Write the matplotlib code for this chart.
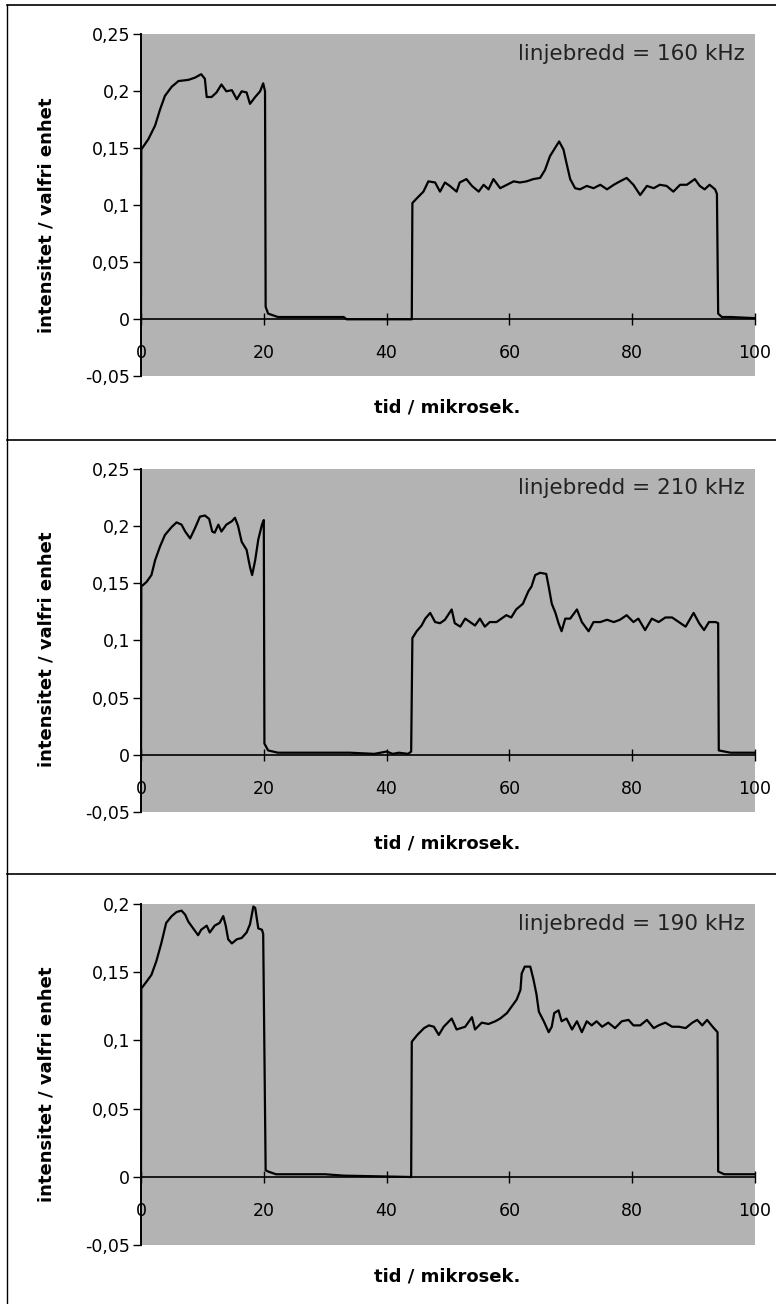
import matplotlib
matplotlib.use('Agg')
import matplotlib.pyplot as plt
from matplotlib.lines import Line2D

# ---- data (t in mikrosek, intensitet) ----
trace_160 = [(0, 0), (0.05, 0.149), (1.2, 0.158), (2.3, 0.170), (3.1, 0.184), (3.9, 0.196),
             (5.0, 0.204), (6.1, 0.209), (7.7, 0.210), (8.8, 0.212), (9.8, 0.215), (10.4, 0.211),
             (10.7, 0.195), (11.5, 0.195), (12.3, 0.199), (13.1, 0.206), (13.9, 0.200), (14.8, 0.201),
             (15.6, 0.193), (16.4, 0.200), (17.2, 0.199), (17.75, 0.189), (18.6, 0.195), (19.4, 0.200),
             (19.9, 0.207), (20.2, 0.200), (20.3, 0.011), (20.7, 0.005), (22.3, 0.002), (26, 0.002),
             (30, 0.002), (33, 0.002), (33.5, 0.0), (44.1, 0.0), (44.2, 0.102), (44.9, 0.106),
             (46.0, 0.112), (46.8, 0.121), (47.9, 0.120), (48.7, 0.112), (49.5, 0.120), (50.3, 0.117),
             (51.4, 0.112), (51.9, 0.120), (53.0, 0.123), (53.9, 0.117), (55.0, 0.112), (55.8, 0.118),
             (56.6, 0.114), (57.4, 0.123), (58.5, 0.115), (59.6, 0.118), (60.7, 0.121), (61.7, 0.120),
             (62.8, 0.121), (63.9, 0.123), (65.0, 0.124), (65.8, 0.131), (66.6, 0.143), (67.4, 0.150),
             (68.1, 0.156), (68.8, 0.149), (69.3, 0.137), (69.9, 0.123), (70.7, 0.115), (71.5, 0.114),
             (72.6, 0.117), (73.7, 0.115), (74.8, 0.118), (75.9, 0.114), (77.0, 0.118), (78.0, 0.121),
             (79.1, 0.124), (80.2, 0.118), (81.3, 0.109), (82.4, 0.117), (83.5, 0.115), (84.5, 0.118),
             (85.6, 0.117), (86.7, 0.112), (87.8, 0.118), (88.9, 0.118), (90.2, 0.123), (91.0, 0.117),
             (91.8, 0.114), (92.6, 0.118), (93.5, 0.114), (93.8, 0.110), (94.0, 0.005), (94.6, 0.002),
             (96, 0.002), (100, 0.001)]

trace_210 = [(0, 0), (0.05, 0.147), (0.9, 0.151), (1.7, 0.157), (2.3, 0.170), (3.1, 0.182),
             (3.9, 0.192), (5.0, 0.199), (5.8, 0.203), (6.6, 0.201), (7.2, 0.195), (8.0, 0.189),
             (8.8, 0.198), (9.6, 0.208), (10.4, 0.209), (11.1, 0.206), (11.6, 0.195), (12.0, 0.194),
             (12.6, 0.201), (13.1, 0.195), (13.9, 0.201), (14.8, 0.204), (15.3, 0.207), (15.8, 0.200),
             (16.4, 0.186), (17.2, 0.179), (17.75, 0.164), (18.1, 0.157), (18.6, 0.170), (19.1, 0.188),
             (19.7, 0.201), (20.0, 0.205), (20.1, 0.010), (20.7, 0.004), (22.3, 0.002), (26, 0.002),
             (30, 0.002), (34, 0.002), (38, 0.001), (40, 0.003), (41, 0.001), (42, 0.002),
             (43.5, 0.001), (44.0, 0.003), (44.2, 0.102), (44.9, 0.108), (45.7, 0.113), (46.3, 0.119),
             (47.1, 0.124), (47.9, 0.116), (48.7, 0.115), (49.5, 0.118), (50.6, 0.127), (51.1, 0.115),
             (52.0, 0.112), (52.8, 0.119), (53.6, 0.116), (54.4, 0.113), (55.2, 0.119), (56.0, 0.112),
             (56.8, 0.116), (57.9, 0.116), (58.7, 0.119), (59.5, 0.122), (60.3, 0.120), (61.1, 0.127),
             (62.2, 0.132), (63.1, 0.143), (63.6, 0.147), (64.2, 0.157), (65.0, 0.159), (66.0, 0.158),
             (66.4, 0.147), (66.9, 0.132), (67.5, 0.124), (68.0, 0.115), (68.5, 0.108), (69.1, 0.119),
             (69.9, 0.119), (71.0, 0.127), (71.8, 0.116), (72.9, 0.108), (73.7, 0.116), (74.8, 0.116),
             (75.9, 0.118), (77.0, 0.116), (78.0, 0.118), (79.1, 0.122), (80.2, 0.116), (81.0, 0.119),
             (82.1, 0.109), (83.2, 0.119), (84.3, 0.116), (85.4, 0.120), (86.5, 0.120), (87.6, 0.116),
             (88.7, 0.112), (90.0, 0.124), (90.9, 0.115), (91.7, 0.109), (92.5, 0.116), (93.6, 0.116),
             (94.0, 0.115), (94.1, 0.004), (96, 0.002), (100, 0.002)]

trace_190 = [(0, 0), (0.05, 0.138), (0.9, 0.143), (1.7, 0.148), (2.5, 0.158), (3.3, 0.171),
             (4.1, 0.186), (5.0, 0.191), (5.8, 0.194), (6.6, 0.195), (7.2, 0.192), (7.7, 0.187),
             (8.5, 0.182), (9.3, 0.177), (9.8, 0.181), (10.7, 0.184), (11.2, 0.179), (12.0, 0.184),
             (12.8, 0.186), (13.4, 0.191), (13.8, 0.184), (14.2, 0.174), (14.8, 0.171), (15.6, 0.174),
             (16.4, 0.175), (17.2, 0.179), (17.75, 0.185), (18.3, 0.198), (18.6, 0.197), (19.1, 0.182),
             (19.7, 0.181), (19.9, 0.178), (20.3, 0.005), (20.7, 0.004), (22, 0.002), (30, 0.002),
             (33, 0.001), (44.0, 0.0), (44.1, 0.099), (45.0, 0.104), (46.1, 0.109), (46.9, 0.111),
             (47.7, 0.110), (48.5, 0.104), (49.3, 0.110), (50.6, 0.116), (51.4, 0.108), (52.8, 0.110),
             (53.9, 0.117), (54.4, 0.108), (55.5, 0.113), (56.6, 0.112), (57.7, 0.114), (58.5, 0.116),
             (59.6, 0.120), (60.4, 0.125), (61.2, 0.130), (61.8, 0.137), (62.0, 0.149), (62.5, 0.154),
             (63.4, 0.154), (63.9, 0.145), (64.4, 0.134), (64.8, 0.121), (65.6, 0.114), (66.4, 0.106),
             (66.9, 0.110), (67.3, 0.120), (68.0, 0.122), (68.5, 0.114), (69.3, 0.116), (70.2, 0.108),
             (71.0, 0.114), (71.8, 0.106), (72.6, 0.114), (73.4, 0.111), (74.2, 0.114), (75.1, 0.110),
             (76.1, 0.113), (77.2, 0.109), (78.3, 0.114), (79.4, 0.115), (80.2, 0.111), (81.3, 0.111),
             (82.4, 0.115), (83.5, 0.109), (84.3, 0.111), (85.4, 0.113), (86.5, 0.110), (87.6, 0.110),
             (88.7, 0.109), (89.8, 0.113), (90.6, 0.115), (91.4, 0.111), (92.2, 0.115), (93.1, 0.110),
             (93.9, 0.106), (94.0, 0.004), (95, 0.002), (100, 0.002)]

traces = [trace_160, trace_210, trace_190]
labels = ['linjebredd = 160 kHz', 'linjebredd = 210 kHz', 'linjebredd = 190 kHz']

xticks = [0, 20, 40, 60, 80, 100]
xticklabels = ['0', '20', '40', '60', '80', '100']
yticks_a = [-0.05, 0, 0.05, 0.1, 0.15, 0.2, 0.25]
yticklabels_a = ['-0,05', '0', '0,05', '0,1', '0,15', '0,2', '0,25']
yticks_b = [-0.05, 0, 0.05, 0.1, 0.15, 0.2]
yticklabels_b = ['-0,05', '0', '0,05', '0,1', '0,15', '0,2']
yticks = [yticks_a, yticks_a, yticks_b]
yticklabels = [yticklabels_a, yticklabels_a, yticklabels_b]

# ---- layout (pixels of a 776x1304 figure) ----
W, H = 776, 1304
ax_left, ax_right = 141, 755
ax_tops = [34.3, 468.5, 903.8]
ax_bottoms = [376.3, 812.3, 1245.3]

fig = plt.figure(figsize=(W / 100, H / 100), dpi=100)
fig.patch.set_facecolor('white')

for i in range(3):
    top, bot = ax_tops[i], ax_bottoms[i]
    ax = fig.add_axes([ax_left / W, 1 - bot / H, (ax_right - ax_left) / W, (bot - top) / H])
    ax.set_facecolor('#b3b3b3')
    t, v = zip(*traces[i])
    ax.plot(t, v, color='black', lw=1.6, solid_joinstyle='round')

    ax.set_xlim(0, 100)
    ax.set_ylim(min(yticks[i]), max(yticks[i]))
    ax.spines['top'].set_visible(False)
    ax.spines['right'].set_visible(False)
    ax.spines['bottom'].set_position(('data', 0))
    ax.spines['bottom'].set_linewidth(1.2)
    ax.spines['left'].set_linewidth(1.4)

    ax.set_xticks(xticks)
    ax.set_xticklabels(xticklabels)
    ax.set_yticks(yticks[i])
    ax.set_yticklabels(yticklabels[i])
    ax.tick_params(axis='x', direction='inout', length=8, width=1, pad=14, labelsize=12.5)
    ax.tick_params(axis='y', direction='out', length=6, width=1, pad=2, labelsize=12.5)

    ax.text(0.984, 1 - 20 / (bot - top), labels[i], transform=ax.transAxes,
            ha='right', va='center', fontsize=15.5, color='#222222')

    fig.text(46.7 / W, 1 - (top + 180.7) / H, 'intensitet / valfri enhet', rotation=90,
             ha='center', va='center', fontsize=13, fontweight='bold')
    fig.text(447 / W, 1 - (bot + 31) / H, 'tid / mikrosek.',
             ha='center', va='center', fontsize=13, fontweight='bold')

# panel frames
for yb in [5, 440, 874]:
    fig.add_artist(Line2D([7 / W, 1], [1 - yb / H, 1 - yb / H], color='black', lw=1.2))
fig.add_artist(Line2D([7 / W, 7 / W], [1 - 5 / H, 0], color='black', lw=1.0))

fig.savefig('out.png', dpi=100)
